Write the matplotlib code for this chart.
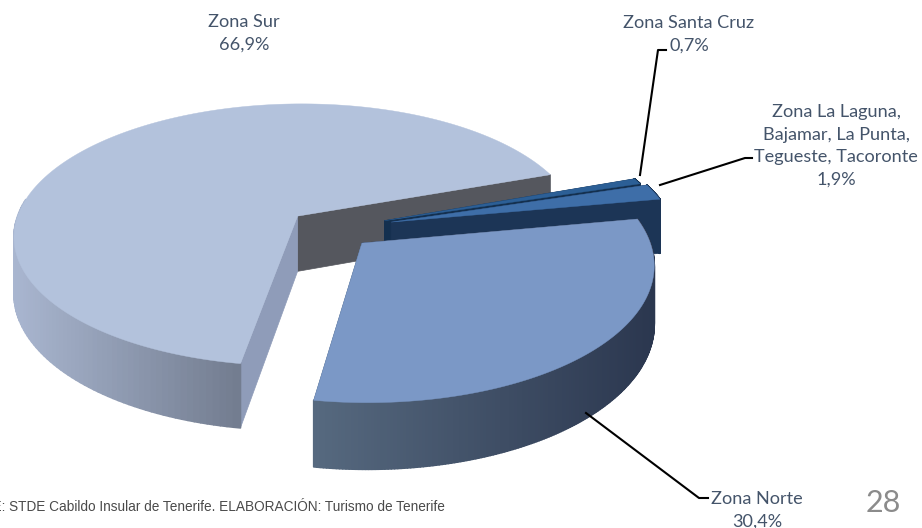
import numpy as np
import matplotlib.pyplot as plt
from matplotlib.collections import PolyCollection
from matplotlib.colors import to_rgb
from matplotlib.patches import Polygon

# Share of each zone, in drawing order around the pie
zonas = ['Zona Sur', 'Zona Norte', 'Zona La Laguna,\nBajamar, La Punta,\nTegueste, Tacoronte', 'Zona Santa Cruz']
valores = [66.9, 30.4, 1.9, 0.7]
explode = [0.155, 0.15, 0.22, 0.20]
start_angle = 19.8

# Colours: top face, side at left, side at right, cut wall 1, cut wall 2
top_colors = ['#b3c2dc', '#7b98c6', '#3e6ea8', '#2c5f96']
side_left = ['#a9b6d0', '#56697f', '#1c3556', '#14304f']
side_right = ['#737d90', '#2b374f', '#1c3556', '#14304f']
wall_start = ['#55575e', '#4d6585', '#1c3556', '#14304f']
wall_end = ['#8f9cb9', '#2b374f', '#1c3556', '#14304f']

# Projection of the unit disc to the picture, in pixels
cx, cy = 331, 229
rx, ry = 284, 132
persp = 0.145
depth = 56


def project(x, y, drop=0.0):
    w = 1 + persp * y
    return cx + rx * x / w, cy - ry * y / w + drop / w


fig = plt.figure(figsize=(9.22, 5.28), dpi=100)
ax = fig.add_axes([0, 0, 1, 1])
ax.set_xlim(0, 922)
ax.set_ylim(528, 0)
ax.axis('off')

# Angles of each slice from the values
fracs = np.array(valores) / sum(valores) * 360
inicio = start_angle + np.concatenate([[0], np.cumsum(fracs)[:-1]])
fin = inicio + fracs

# Back slices first so the front ones cover them
orden = [0, 3, 2, 1]
for i in orden:
    t = np.radians(np.linspace(inicio[i], fin[i], 200))
    mid = np.radians((inicio[i] + fin[i]) / 2)
    ox, oy = explode[i] * np.cos(mid), explode[i] * np.sin(mid)
    ux, uy = ox + np.cos(t), oy + np.sin(t)
    z = 5 + orden.index(i) * 5

    top = np.column_stack(project(ux, uy))
    bottom = np.column_stack(project(ux, uy, depth))
    apex = np.array(project(ox, oy))
    apex_low = np.array(project(ox, oy, depth))

    # Cut walls of the slice
    ax.add_patch(Polygon([apex, top[0], bottom[0], apex_low], fc=wall_start[i], ec=wall_start[i], lw=0.5, zorder=z))
    ax.add_patch(Polygon([apex, top[-1], bottom[-1], apex_low], fc=wall_end[i], ec=wall_end[i], lw=0.5, zorder=z))

    # Outer side, shaded from left to right over the part that shows
    front = [j for j in range(len(t) - 1) if np.sin(t[j]) < 0.15 or i != 0]
    quads = [[top[j], top[j + 1], bottom[j + 1], bottom[j]] for j in front]
    xs = top[front, 0]
    xpos = (xs - xs.min()) / (xs.max() - xs.min())
    left, right = np.array(to_rgb(side_left[i])), np.array(to_rgb(side_right[i]))
    shades = [left + (right - left) * p for p in xpos]
    ax.add_collection(PolyCollection(quads, facecolors=shades, edgecolors=shades, linewidths=1.2, zorder=z + 1))

    # Top face
    ax.add_patch(Polygon(np.vstack([apex, top]), fc=top_colors[i], ec=top_colors[i], lw=0.3, zorder=z + 2))

# Leader lines
ax.plot([640, 658, 666], [175, 50, 50], color='black', lw=1.5, zorder=40)
ax.plot([660, 745, 752], [185, 158, 158], color='black', lw=1.5, zorder=40)
ax.plot([586, 699, 708], [413, 498, 498], color='black', lw=1.5, zorder=40)

# Labels
etiq = [z + '\n' + f'{v:.1f}%'.replace('.', ',') for z, v in zip(zonas, valores)]
txt = dict(family='Lato', fontsize=13.1, color='#44546a', ha='center', va='center', linespacing=1.5, zorder=50)
ax.text(244, 33, etiq[0], **txt)
ax.text(757, 510, etiq[1], clip_on=False, **txt)
ax.text(836, 146, etiq[2], **txt)
ax.text(689, 34, etiq[3], **txt)

ax.text(445, 507, 'FUENTE: STDE Cabildo Insular de Tenerife. ELABORACIÓN: Turismo de Tenerife',
        family='Liberation Sans', fontsize=9.8, color='#4a4a4a', ha='right', va='center')
ax.text(883, 503, '28', family='Lato', fontsize=22, color='#8b8b8b', ha='center', va='center')

fig.savefig('out.png', dpi=100)
